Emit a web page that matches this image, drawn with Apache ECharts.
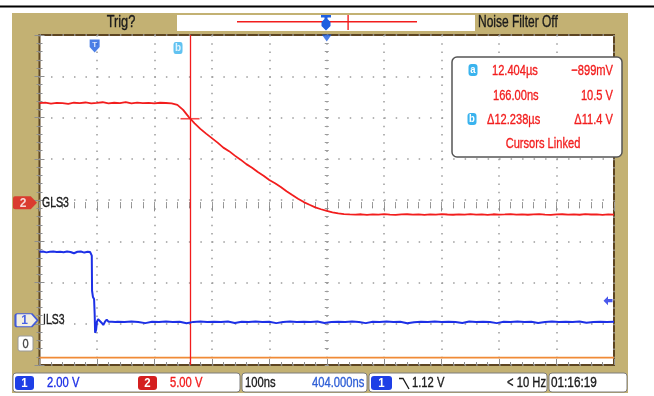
<!DOCTYPE html>
<html>
<head>
<meta charset="utf-8">
<script src="https://cdn.jsdelivr.net/npm/echarts@6/dist/echarts.min.js"></script>
<style>
  html, body { margin: 0; padding: 0; background: #ffffff; }
  #scope { width: 654px; height: 396px; }
</style>
</head>
<body>
<div id="scope"></div>
<script>
// ---- acquisition settings ----
const timeWindowNs = [-96, 904];          // 100 ns/div, centre at 404 ns
const ch1RangeV = [-2, 14];               // 2.00 V/div, ground 1 div above bottom
const ch2RangeV = [-19.35, 20.65];        // 5.00 V/div
const graticuleDivs = [10, 8];
const triggerTimeNs = 0;
const horizontalPosNs = 404;
const ch1TriggerLevelV = 1.12;
const cursorBTimeNs = 166;
const cursorBVolts = 10.5;
const ch1Name = 'ILS3';
const ch2Name = 'GLS3';

// ---- channel 1 (blue) samples: [time ns, volts] ----
const ch1Trace = [
  [-96,3.49],[-90,3.5],[-84,3.46],[-78,3.49],[-72,3.5],[-66,3.48],[-60,3.49],[-54,3.47],
  [-48,3.5],[-42,3.48],[-36,3.42],[-30,3.49],[-24,3.5],[-18,3.45],[-12,3.49],[-8,3.48],
  [-6,3.47],[-5,3.3],[-4.5,1.6],[-3,1.3],[-1,1.2],[0,0.5],[0.8,-0.44],[2.5,-0.3],[4,0.1],
  [6,0.22],[9,0.26],[12,0.05],[15,-0.06],[18,0.1],[21,0.2],[24,0.1],[27,0.04],[30,0.1],
  [33,0.12],[36,0.08],[40,0.1],[52,0.08],[64,0.11],[76,0.09],[88,0.03],[100,0.1],[112,0.09],
  [124,0.11],[136,0.08],[148,0.1],[160,0.02],[172,0.09],[184,0.11],[196,0.08],[208,0.1],
  [220,0.09],[232,0.11],[244,0.04],[256,0.1],[268,0.08],[280,0.11],[292,0.09],[304,0.1],
  [316,0.03],[328,0.09],[340,0.11],[352,0.08],[364,0.1],[376,0.09],[388,0.11],[400,0.04],
  [412,0.09],[424,0.1],[436,0.08],[448,0.11],[460,0.09],[472,0.03],[484,0.1],[496,0.09],
  [508,0.11],[520,0.08],[532,0.1],[544,0.02],[556,0.07],[568,0.1],[580,0.09],[592,0.11],
  [604,0.08],[616,0.1],[628,0.09],[640,0.04],[652,0.11],[664,0.09],[676,0.1],[688,0.08],
  [700,0.03],[712,0.1],[724,0.09],[736,0.11],[748,0.08],[760,0.1],[772,0.04],[784,0.09],
  [796,0.11],[808,0.08],[820,0.1],[832,0.09],[844,0.11],[856,0.05],[868,0.09],[880,0.1],
  [892,0.08],[904,0.1]
];

// ---- channel 2 (red) samples: [time ns, volts] ----
const ch2Trace = [
  [-96,12.38],[-86,12.45],[-76,12.33],[-66,12.42],[-56,12.4],[-46,12.3],[-36,12.44],[-26,12.38],
  [-16,12.47],[-6,12.35],[4,12.42],[14,12.5],[24,12.36],[34,12.44],[44,12.4],[54,12.52],
  [64,12.37],[74,12.45],[84,12.39],[94,12.43],[104,12.35],[114,12.44],[124,12.41],[134,12.36],
  [144,12.18],[154,11.58],[164,10.7],[174,9.95],[184,9.27],[194,8.7],[204,8.15],[214,7.6],
  [224,7.0],[234,6.57],[244,6.03],[254,5.54],[264,5.0],[274,4.57],[284,4.04],[294,3.6],
  [304,3.07],[314,2.69],[324,2.22],[334,1.72],[344,1.25],[354,0.81],[364,0.4],[374,0.07],
  [384,-0.25],[394,-0.47],[404,-0.68],[414,-0.84],[424,-0.98],[434,-1.06],
  [444,-1.1],[454,-1.12],[464,-1.08],[474,-1.15],[484,-1.1],[494,-1.13],[504,-1.07],[514,-1.12],
  [524,-1.16],[534,-1.1],[544,-1.08],[554,-1.13],[564,-1.1],[574,-1.15],[584,-1.09],[594,-1.12],
  [604,-1.06],[614,-1.11],[624,-1.14],[634,-1.09],[644,-1.12],[654,-1.07],[664,-1.13],[674,-1.1],
  [684,-1.15],[694,-1.08],[704,-1.12],[714,-1.1],[724,-1.06],[734,-1.13],[744,-1.09],[754,-1.14],
  [764,-1.1],[774,-1.07],[784,-1.12],[794,-1.16],[804,-1.1],[814,-1.08],[824,-1.13],[834,-1.1],
  [844,-1.14],[854,-1.07],[864,-1.11],[874,-1.09],[884,-1.15],[894,-1.1],[904,-1.13]
];

// ---- reference trace parked at the bottom of the screen (graticule divisions) ----
const refTraceDiv = [[-96,0.18],[904,0.18]];

// ---- readout texts ----
const readoutRows = [
  ['12.404\u00b5s', '\u2212899mV'],
  ['166.00ns', '10.5 V'],
  ['\u039412.238\u00b5s', '\u039411.4 V'],
];
const readoutFooter = 'Cursors Linked';
const statusLabels = ['2.00 V', '5.00 V', '100ns', '404.000ns', '1.12 V', '< 10 Hz', '01:16:19'];
const headerLabels = ['Trig?', 'Noise Filter Off'];

// ---- colours & fonts ----
const FONT = '"Liberation Sans Narrow","Liberation Sans",Arial,sans-serif';
const TAN = '#c3b173';
const FRAME = '#5d4522';
const DOT = '#9c9c9c';
const TICK = '#8e8e8e';
const RED = '#f21d1d';
const BLUE = '#1d30e6';
const CYAN = '#3ab3ee';

const chart = echarts.init(document.getElementById('scope'), null, { renderer: 'canvas' });

function gratAxis(extra) {
  return Object.assign({
    type: 'value', gridIndex: 0, interval: 1,
    axisLine: { show: false }, axisLabel: { show: false },
    axisTick: { show: true, inside: true, length: 5, lineStyle: { color: TICK, width: 1 } },
    minorTick: { show: true, splitNumber: 5, length: 3, lineStyle: { color: TICK, width: 1 } },
    splitLine: { show: false }
  }, extra);
}

// condensed instrument lettering: regular face squeezed horizontally about its anchor,
// with a hairline outline in the same colour to give the display's heavier stroke
function txt(text, x, y, fill, size, align, squeeze, weight) {
  return {
    type: 'text', z: 120, x: x, y: y, scaleX: squeeze || 0.8, scaleY: 1,
    style: {
      text: text, x: 0, y: 0, fill: fill,
      stroke: weight === 'bold' ? null : fill, lineWidth: 0.35,
      font: (weight || 'normal') + ' ' + size + 'px ' + FONT,
      textAlign: align || 'left', textVerticalAlign: 'middle', verticalAlign: 'middle'
    }
  };
}
function box(x, y, w, h, fill, stroke, r, lw) {
  return { type: 'rect', z: 110, shape: { x: x, y: y, width: w, height: h, r: r || 0 },
           style: { fill: fill, stroke: stroke || null, lineWidth: lw || 1 } };
}
function badge(x, y, w, h, fill, label, labelColor, size) {
  return [
    box(x, y, w, h, fill, null, 3, 1),
    txt(label, x + w / 2, y + h / 2 + 0.5, labelColor, size || 12, 'center', 0.95, 'bold')
  ];
}

const graphics = [
  // instrument bezel
  { type: 'rect', z: -100, shape: { x: 12, y: 13, width: 616, height: 380 }, style: { fill: TAN } },
  { type: 'rect', z: -99, shape: { x: 39.5, y: 35, width: 574.5, height: 330 }, style: { fill: '#ffffff' } },
  { type: 'rect', z: 120, shape: { x: 0, y: 5.5, width: 654, height: 2 }, style: { fill: '#000000' } },
  // header
  box(177, 15, 298, 16, '#ffffff'),
  { type: 'rect', z: 115, shape: { x: 237, y: 21, width: 180, height: 1.4 }, style: { fill: RED } },
  { type: 'rect', z: 115, shape: { x: 347.4, y: 15, width: 1.4, height: 15 }, style: { fill: RED } },
  { type: 'rect', z: 116, shape: { x: 321, y: 15, width: 10, height: 2.5 }, style: { fill: '#1f5fe0' } },
  { type: 'polygon', z: 116,
    shape: { points: [[324.5, 17], [327.5, 17], [327.5, 19], [330.5, 22], [330.5, 26], [326, 30.5], [321.5, 26], [321.5, 22], [324.5, 19]] },
    style: { fill: '#1f5fe0' } },
  txt(headerLabels[0], 121, 22.5, '#1a1a1a', 16, 'center', 0.8),
  txt(headerLabels[1], 478, 22.5, '#1a1a1a', 16, 'left', 0.75),
  // cursor readout
  box(452, 57, 170, 100, '#ffffff', '#555555', 5, 1.5),
  ...badge(468.5, 64, 9, 12, CYAN, 'a', '#ffffff', 10),
  ...badge(467.5, 113, 9, 12, CYAN, 'b', '#ffffff', 10),
  txt(readoutRows[0][0], 492, 70.5, RED, 15, 'left', 0.74),
  txt(readoutRows[0][1], 613, 70.5, RED, 15, 'right', 0.74),
  txt(readoutRows[1][0], 493, 96, RED, 15, 'left', 0.74),
  txt(readoutRows[1][1], 613, 96, RED, 15, 'right', 0.74),
  txt(readoutRows[2][0], 487, 119.5, RED, 15, 'left', 0.74),
  txt(readoutRows[2][1], 613, 119.5, RED, 15, 'right', 0.74),
  txt(readoutFooter, 543, 144, RED, 15, 'center', 0.74),
  // ground marker for the parked trace
  box(18, 336, 15, 15, '#ffffff', '#9a9a9a', 2, 1),
  txt('0', 25.5, 344, '#444444', 13, 'center', 0.85),
  // status bar
  box(13, 373, 227, 19, '#ffffff', '#7d7d7d', 3, 1),
  box(242, 373, 125, 19, '#ffffff', '#7d7d7d', 3, 1),
  box(369, 373, 178, 19, '#ffffff', '#7d7d7d', 3, 1),
  box(549, 373, 78, 19, '#ffffff', '#7d7d7d', 3, 1),
  ...badge(15, 376, 19, 14, '#1e3fe6', '1', '#ffffff'),
  txt(statusLabels[0], 47, 383.5, BLUE, 14, 'left', 0.8),
  ...badge(138, 376, 19, 14, '#d41f1f', '2', '#ffffff'),
  txt(statusLabels[1], 170, 383.5, RED, 14, 'left', 0.8),
  txt(statusLabels[2], 245, 383.5, '#1a1a1a', 14, 'left', 0.8),
  txt(statusLabels[3], 312, 383.5, '#2f5fd6', 14, 'left', 0.8),
  ...badge(371, 376, 21, 14, '#1e3fe6', '1', '#ffffff'),
  { type: 'polyline', z: 120, shape: { points: [[399, 378.5], [403, 378.5], [409, 389]] },
    style: { stroke: '#1a1a1a', lineWidth: 1.3, fill: null } },
  txt(statusLabels[4], 412, 383.5, '#1a1a1a', 14, 'left', 0.8),
  txt(statusLabels[5], 546, 383.5, '#1a1a1a', 14, 'right', 0.8),
  txt(statusLabels[6], 551, 383.5, '#1a1a1a', 14, 'left', 0.84)
];

const option = {
  animation: false,
  backgroundColor: 'transparent',
  grid: { left: 39.5, right: 40, top: 35, bottom: 31, show: true,
          borderColor: FRAME, borderWidth: 2, backgroundColor: 'transparent' },
  xAxis: [
    { type: 'value', gridIndex: 0, min: timeWindowNs[0], max: timeWindowNs[1], show: false },
    gratAxis({ min: 0, max: graticuleDivs[0], position: 'top',
      axisTick: { show: true, inside: true, length: 6, lineStyle: { color: TICK } },
      splitLine: { show: true, lineStyle: { color: DOT, width: 1.5, type: [1.5, 6.75] } } }),
    gratAxis({ min: 0, max: graticuleDivs[0], position: 'bottom',
      axisTick: { show: true, inside: true, length: 6, lineStyle: { color: TICK } } }),
    gratAxis({ min: 0, max: graticuleDivs[0], position: 'bottom', offset: -167,
      axisTick: { show: true, inside: false, length: 4, lineStyle: { color: DOT } },
      minorTick: { show: true, splitNumber: 5, length: 4, lineStyle: { color: DOT } } })
  ],
  yAxis: [
    { type: 'value', gridIndex: 0, min: ch1RangeV[0], max: ch1RangeV[1], show: false },
    { type: 'value', gridIndex: 0, min: ch2RangeV[0], max: ch2RangeV[1], show: false },
    gratAxis({ min: 0, max: graticuleDivs[1], position: 'left',
      axisTick: { show: true, inside: true, length: 5, lineStyle: { color: TICK } },
      splitLine: { show: true, lineStyle: { color: DOT, width: 1.5, type: [1.5, 9.99] } } }),
    gratAxis({ min: 0, max: graticuleDivs[1], position: 'right',
      axisTick: { show: true, inside: true, length: 5, lineStyle: { color: TICK } } }),
    gratAxis({ min: 0, max: graticuleDivs[1], position: 'left', offset: -289.25,
      axisTick: { show: true, inside: false, length: 4, lineStyle: { color: DOT } },
      minorTick: { show: true, splitNumber: 5, length: 4, lineStyle: { color: DOT } } })
  ],
  series: [
    { name: 'ref', type: 'line', xAxisIndex: 0, yAxisIndex: 2, data: refTraceDiv,
      showSymbol: false, silent: true, lineStyle: { color: '#f08a36', width: 1.8 }, z: 3 },
    { name: ch2Name, type: 'line', xAxisIndex: 0, yAxisIndex: 1, data: ch2Trace,
      showSymbol: false, silent: true, lineStyle: { color: RED, width: 1.8 }, z: 4 },
    { name: ch1Name, type: 'line', xAxisIndex: 0, yAxisIndex: 0, data: ch1Trace,
      showSymbol: false, silent: true, lineStyle: { color: BLUE, width: 2 }, z: 5 },
    // cursor b: vertical line and value crosshair
    { name: 'cursor b', type: 'scatter', xAxisIndex: 0, yAxisIndex: 1, silent: true, z: 6,
      data: [[cursorBTimeNs, cursorBVolts]], symbol: 'rect', symbolSize: [19, 1.6],
      itemStyle: { color: RED },
      markLine: { silent: true, symbol: ['none', 'none'], label: { show: false },
        lineStyle: { color: RED, width: 1.3, type: 'solid' }, data: [{ xAxis: cursorBTimeNs }] } },
    // cursor b tag at top of screen
    { name: 'cursor b tag', type: 'scatter', xAxisIndex: 0, yAxisIndex: 2, silent: true, z: 7, clip: false,
      data: [[cursorBTimeNs, graticuleDivs[1]]], symbol: 'roundRect', symbolSize: [9, 12],
      symbolOffset: [-12, 13], itemStyle: { color: CYAN },
      label: { show: true, position: 'inside', formatter: 'b', color: '#fff',
               fontSize: 10, fontWeight: 'bold', fontFamily: FONT } },
    // trigger point marker
    { name: 'trigger', type: 'scatter', xAxisIndex: 0, yAxisIndex: 2, silent: true, z: 7, clip: false,
      data: [[triggerTimeNs, graticuleDivs[1]]],
      symbol: 'path://M0,0 H10 V7 L5,12 L0,7 Z', symbolSize: [10, 13], symbolOffset: [0, 11],
      itemStyle: { color: '#1f5fe0' },
      label: { show: true, position: 'inside', offset: [0, -1], formatter: 'T', color: '#fff',
               fontSize: 8, fontWeight: 'bold', fontFamily: FONT } },
    // horizontal position marker
    { name: 'position', type: 'scatter', xAxisIndex: 0, yAxisIndex: 2, silent: true, z: 7, clip: false,
      data: [[horizontalPosNs, graticuleDivs[1]]], symbol: 'triangle', symbolRotate: 180,
      symbolSize: [10, 7], symbolOffset: [0, 3], itemStyle: { color: '#1f5fe0' } },
    // channel 1 trigger level
    { name: 'trigger level', type: 'scatter', xAxisIndex: 0, yAxisIndex: 0, silent: true, z: 7, clip: false,
      data: [[timeWindowNs[1], ch1TriggerLevelV]],
      symbol: 'path://M0,5 L5,0 V3.3 H10 V6.7 H5 V10 Z', symbolSize: [9, 9], symbolOffset: [-6, 0],
      itemStyle: { color: BLUE } },
    // channel ground markers
    { name: 'ch2 ground', type: 'scatter', xAxisIndex: 0, yAxisIndex: 1, silent: true, z: 8, clip: false,
      data: [[timeWindowNs[0], 0]],
      symbol: 'path://M2,0 H17 L23,6.5 L17,13 H2 Q0,13 0,11 V2 Q0,0 2,0 Z', symbolSize: [24, 13],
      symbolOffset: [-14.5, -2.5], itemStyle: { color: '#e01e1e' },
      label: { show: true, position: 'inside', offset: [-2, 0.5], formatter: '2', color: '#fff',
               fontSize: 12, fontWeight: 'bold', fontFamily: FONT } },
    { name: 'ch1 ground', type: 'scatter', xAxisIndex: 0, yAxisIndex: 0, silent: true, z: 8, clip: false,
      data: [[timeWindowNs[0], 0]],
      symbol: 'path://M2,0 H17 L23,6.5 L17,13 H2 Q0,13 0,11 V2 Q0,0 2,0 Z', symbolSize: [22, 13],
      symbolOffset: [-13, -3.5], itemStyle: { color: '#ffffff', borderColor: '#1e3fe6', borderWidth: 1.6 },
      label: { show: true, position: 'inside', offset: [-2, 0.5], formatter: '1', color: '#1e3fe6',
               fontSize: 12, fontWeight: 'bold', fontFamily: FONT } }
  ],
  graphic: { elements: graphics }
};

chart.setOption(option);

// channel names sit just right of each channel's ground level
const ch2Ground = chart.convertToPixel({ xAxisIndex: 0, yAxisIndex: 1 }, [timeWindowNs[0], 0]);
const ch1Ground = chart.convertToPixel({ xAxisIndex: 0, yAxisIndex: 0 }, [timeWindowNs[0], 0]);
chart.setOption({
  graphic: { elements: graphics.concat([
    txt(ch2Name, ch2Ground[0] + 2.5, ch2Ground[1] - 2.5, '#1a1a1a', 15, 'left', 0.7),
    txt(ch1Name, ch1Ground[0] + 3.5, ch1Ground[1] - 3.5, '#1a1a1a', 15, 'left', 0.7)
  ]) }
});
</script>
</body>
</html>
